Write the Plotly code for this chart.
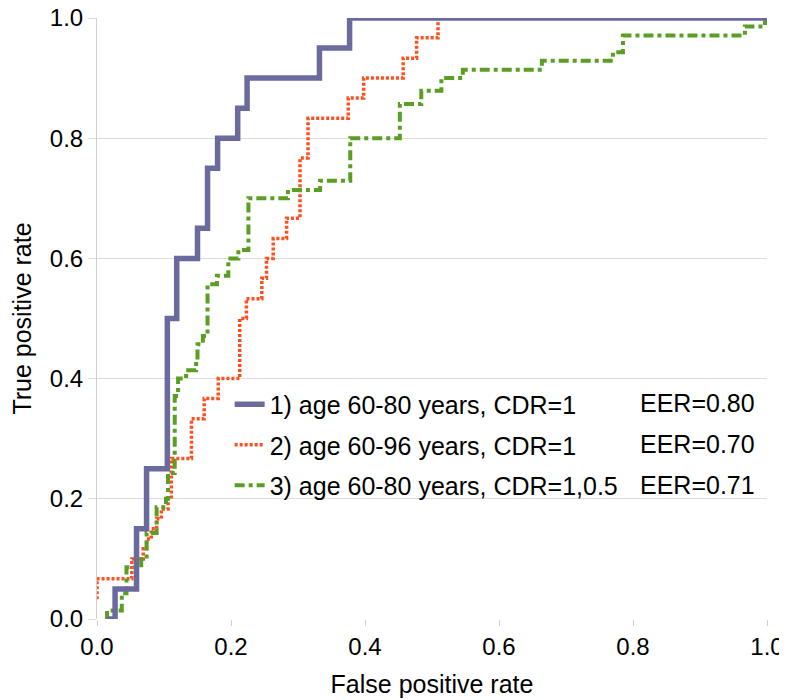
import plotly.graph_objects as go

# ---- data ----
s1_name = "1) age 60-80 years, CDR=1"
s1_fpr = [0.015, 0.027, 0.059, 0.074, 0.105, 0.119, 0.150, 0.165, 0.180, 0.210, 0.224, 0.332, 0.377, 1.0]
s1_tpr = [0.0, 0.05, 0.15, 0.25, 0.50, 0.60, 0.65, 0.75, 0.80, 0.85, 0.90, 0.95, 1.0, 1.0]

s2_name = "2) age 60-96 years, CDR=1"
s2_fpr = [0.0, 0.0, 0.052, 0.069, 0.074, 0.081, 0.089, 0.096, 0.106, 0.111, 0.141, 0.160, 0.181,
          0.213, 0.223, 0.246, 0.253, 0.263, 0.283, 0.303, 0.315, 0.375, 0.398, 0.457, 0.477, 0.509]
s2_tpr = [0.033, 0.067, 0.100, 0.117, 0.133, 0.150, 0.167, 0.183, 0.200, 0.267, 0.333, 0.367, 0.400,
          0.500, 0.533, 0.567, 0.600, 0.633, 0.667, 0.767, 0.833, 0.867, 0.900, 0.933, 0.967, 1.000]

s3_name = "3) age 60-80 years, CDR=1,0.5"
s3_fpr = [0.012, 0.015, 0.037, 0.044, 0.066, 0.074, 0.089, 0.103, 0.106, 0.116,
          0.121, 0.133, 0.148, 0.150, 0.158, 0.165, 0.179, 0.196, 0.211, 0.226,
          0.285, 0.333, 0.378, 0.452, 0.484, 0.514, 0.546, 0.664, 0.770, 0.785,
          0.967, 0.997]
s3_tpr = [0.0, 0.014, 0.043, 0.086, 0.100, 0.143, 0.186, 0.200, 0.243, 0.371,
          0.400, 0.414, 0.429, 0.457, 0.471, 0.557, 0.571, 0.600, 0.614, 0.700,
          0.714, 0.729, 0.800, 0.857, 0.879, 0.900, 0.914, 0.929, 0.943, 0.971,
          0.986, 1.0]

eer_values = [0.80, 0.70, 0.71]
tick_vals = [0.0, 0.2, 0.4, 0.6, 0.8, 1.0]
tick_text = ["0.0", "0.2", "0.4", "0.6", "0.8", "1.0"]

FONT = "Liberation Sans, Arial, Helvetica, sans-serif"
FS = 25
TFS = 24
BLUE = "#6a6a9e"
ORANGE = "#ff4f1f"
GREEN = "#5a9e23"

fig = go.Figure()
fig.add_trace(go.Scatter(x=s2_fpr, y=s2_tpr, mode="lines", name=s2_name, line_shape="hv",
                         line=dict(color=ORANGE, width=3.5, dash="3px,2px"),
                         legendgroup="g2", legendrank=2))
fig.add_trace(go.Scatter(x=s3_fpr, y=s3_tpr, mode="lines", name=s3_name, line_shape="hv",
                         line=dict(color=GREEN, width=4, dash="10px,4px,4px,4px"),
                         legendgroup="g3", legendrank=3))
fig.add_trace(go.Scatter(x=s1_fpr, y=s1_tpr, mode="lines", name=s1_name, line_shape="hv",
                         line=dict(color=BLUE, width=5.5),
                         legendgroup="g1", legendrank=1))

ann_y = [0.359, 0.291, 0.223]
for v, yy in zip(eer_values, ann_y):
    fig.add_annotation(x=0.807, y=yy, xref="paper", yref="paper", xanchor="left", yanchor="middle",
                       text=f"EER={v:.2f}", showarrow=False, font=dict(family=FONT, size=FS, color="black"))

fig.update_layout(
    width=787, height=700,
    margin=dict(l=89, r=28, t=10, b=89, autoexpand=False),
    paper_bgcolor="white", plot_bgcolor="white",
    font=dict(family=FONT, size=FS, color="black"),
    showlegend=True,
    legend=dict(x=0.198, y=0.395, xanchor="left", yanchor="top", bgcolor="rgba(0,0,0,0)",
                font=dict(family=FONT, size=FS, color="black"), tracegroupgap=5,
                traceorder="grouped"),
    xaxis=dict(range=[0, 1], tickvals=tick_vals, ticktext=tick_text, showgrid=False,
               zeroline=False, showline=False, ticks="outside", ticklen=6, tickcolor="#d0d0d0",
               automargin=False, ticklabeloverflow="allow",
               title=dict(text="False positive rate", font=dict(size=FS), standoff=16),
               tickfont=dict(size=TFS)),
    yaxis=dict(range=[0, 1], tickvals=tick_vals, ticktext=tick_text, showgrid=True,
               gridcolor="#dcdcdc", gridwidth=1, zeroline=False, showline=True, linecolor="#d0d0d0",
               ticks="outside", ticklen=8, tickcolor="#dcdcdc", automargin=False,
               ticklabeloverflow="allow",
               title=dict(text="True positive rate", font=dict(size=FS), standoff=14),
               tickfont=dict(size=TFS)),
)
fig.write_html("out.html")
